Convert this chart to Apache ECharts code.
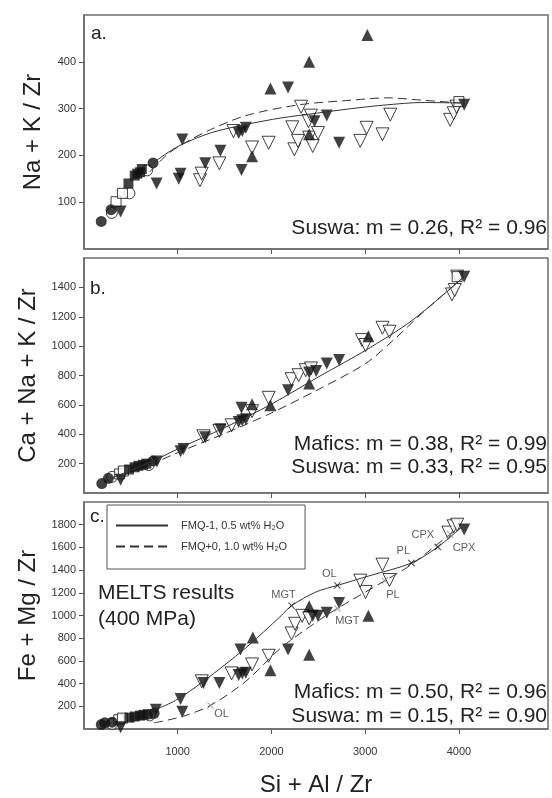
<!DOCTYPE html>
<html>
<head>
<meta charset="utf-8">
<script src="https://cdn.jsdelivr.net/npm/echarts@6/dist/echarts.min.js"></script>
<style>
html, body { margin: 0; padding: 0; background: #fff; }
#chart { width: 552px; height: 798px; }
</style>
</head>
<body>
<div id="chart"></div>
<script>
// ticks
var xTicks = [1000, 2000, 3000, 4000];
var aTicks = [100, 200, 300, 400];
var bTicks = [200, 400, 600, 800, 1000, 1200, 1400];
var cTicks = [200, 400, 600, 800, 1000, 1200, 1400, 1600, 1800];

// panel a: Na + K / Zr
var aFilledCircle = [[184, 59], [289, 84], [737, 184]];
var aOpenCircle = [[297, 77], [485, 119], [673, 168]];
var aFilledSquare = [[474, 140], [541, 157], [568, 161], [598, 164], [617, 171]];
var aOpenSquare = [[342, 101], [410, 119], [4000, 315]];
var aFilledUp = [[1793, 198], [1989, 343], [2402, 400], [3023, 457], [2402, 245]];
var aFilledDown = [[391, 80], [775, 140], [1049, 234], [1011, 150], [1030, 161], [1293, 183], [1455, 210],
  [1680, 169], [1650, 248], [1688, 252], [1726, 259], [2177, 345], [2459, 273], [2590, 285], [2722, 227], [4056, 308]];
var aOpenDown = [[1237, 147], [1256, 161], [1444, 183], [1594, 252], [1793, 217], [1970, 227], [2222, 260],
  [2244, 213], [2282, 231], [2316, 304], [2395, 273], [2402, 238], [2440, 220], [2496, 248], [2947, 231],
  [3015, 259], [3184, 245], [3267, 287], [3906, 276], [3944, 290], [3974, 304], [2420, 285]];
var aSolid = [[700, 175], [737, 184], [1011, 220], [1350, 248], [1726, 266], [2102, 280], [2477, 290],
  [2853, 300], [3229, 308], [3605, 313], [4019, 312]];
var aDashed = [[704, 165], [883, 201], [1049, 224], [1350, 255], [1726, 285], [2290, 308], [2853, 318],
  [3229, 323], [3605, 318], [4019, 312]];

// panel b: Ca + Na + K / Zr
var bFilledCircle = [[190, 64], [260, 100], [737, 218]];
var bOpenCircle = [[300, 110], [690, 190]];
var bFilledSquare = [[480, 160], [540, 175], [580, 185], [630, 192], [665, 200]];
var bOpenSquare = [[380, 130], [420, 150], [3981, 1473]];
var bFilledUp = [[1793, 605], [1989, 598], [2402, 745], [3034, 1068]];
var bFilledDown = [[391, 90], [778, 215], [1030, 285], [1060, 300], [1293, 380], [1455, 434], [1650, 484],
  [1688, 495], [1726, 502], [1680, 580], [2177, 700], [2402, 820], [2477, 830], [2590, 882], [2722, 905], [4056, 1473]];
var bOpenDown = [[1274, 386], [1444, 423], [1575, 461], [1793, 557], [1970, 648], [2214, 775], [2290, 802],
  [2365, 836], [2421, 848], [2966, 1041], [3004, 1007], [3184, 1125], [3259, 1098], [3925, 1352], [3955, 1382], [3981, 1473]];
var bSolid = [[250, 90], [737, 218], [1000, 300], [1500, 445], [2000, 605], [2500, 790], [3000, 970],
  [3500, 1175], [4050, 1470]];
var bDashed = [[700, 190], [1000, 275], [1500, 405], [2000, 545], [2500, 705], [3000, 880], [3300, 1040],
  [3600, 1220], [4050, 1470]];

// panel c: Fe + Mg / Zr
var cFilledCircle = [[184, 39], [222, 54], [300, 60], [748, 138]];
var cOpenCircle = [[300, 45], [700, 120]];
var cFilledSquare = [[485, 100], [541, 110], [598, 118], [635, 125], [680, 130]];
var cOpenSquare = [[372, 82], [410, 96]];
var cFilledUp = [[1801, 806], [1989, 518], [2402, 654], [2402, 1082], [3034, 997]];
var cFilledDown = [[391, 15], [767, 170], [1030, 265], [1049, 152], [1274, 406], [1444, 406], [1650, 476],
  [1688, 490], [1726, 496], [1669, 701], [2177, 701], [2440, 997], [2496, 997], [2590, 1025], [2722, 1110], [4056, 1758]];
var cOpenDown = [[1256, 420], [1575, 490], [1793, 569], [1970, 645], [2214, 842], [2252, 927], [2327, 997],
  [2402, 975], [3004, 1208], [2947, 1307], [3184, 1448], [3259, 1313], [3887, 1730], [3944, 1786], [3981, 1800]];
var cSolid = [[711, 152], [974, 251], [1274, 420], [1726, 715], [2102, 997], [2214, 1087], [2477, 1208],
  [2703, 1265], [3041, 1349], [3492, 1462], [3774, 1603], [4019, 1772]];
var cDashed = [[748, 54], [1049, 110], [1350, 208], [1726, 420], [2102, 715], [2477, 941], [2703, 1062],
  [3210, 1307], [3492, 1448], [3906, 1715], [4019, 1772]];

// MELTS phase-in points
var solidPhases = [[2214, 1087], [2703, 1265], [3492, 1462], [3774, 1603]];
var solidPhaseNames = ['MGT', 'OL', 'PL', 'CPX'];
var dashedPhases = [[1350, 208], [2703, 1062], [3210, 1307], [3906, 1715]];
var dashedPhaseNames = ['OL', 'MGT', 'PL', 'CPX'];

var solidName = 'FMQ-1, 0.5 wt% H\u2082O';
var dashedName = 'FMQ+0, 1.0 wt% H\u2082O';
var FONT = '"Liberation Sans", Arial, sans-serif';

var chart = echarts.init(document.getElementById('chart'));

var grids = [
  { left: 84, top: 15, width: 464, height: 234 },
  { left: 84, top: 258, width: 464, height: 235 },
  { left: 84, top: 502, width: 464, height: 236 }
];
grids.forEach(function (g) {
  g.show = true;
  g.borderColor = '#6e6e6e';
  g.borderWidth = 1.5;
  g.backgroundColor = '#fff';
});

var yMax = [500, 1600, 2000];
var yTicks = [aTicks, bTicks, cTicks];
var yNames = ['Na + K / Zr', 'Ca + Na + K / Zr', 'Fe + Mg / Zr'];
function plain(v) { return String(v); }

var xAxes = [0, 1, 2].map(function (i) {
  return {
    gridIndex: i, type: 'value', min: 0, max: 4950,
    axisLine: { show: true, lineStyle: { color: '#6e6e6e', width: 1.5 } },
    axisTick: { show: true, length: 5, customValues: xTicks, lineStyle: { color: '#555' } },
    axisLabel: { show: i === 2, customValues: xTicks, formatter: plain, color: '#333', fontSize: 11, margin: 17, fontFamily: FONT },
    splitLine: { show: false },
    name: i === 2 ? 'Si + Al / Zr' : '',
    nameLocation: 'middle', nameGap: 44,
    nameTextStyle: { fontSize: 24, color: '#222', fontFamily: FONT }
  };
});
var yAxes = [0, 1, 2].map(function (i) {
  return {
    gridIndex: i, type: 'value', min: 0, max: yMax[i],
    axisLine: { show: true, lineStyle: { color: '#6e6e6e', width: 1.5 } },
    axisTick: { show: true, length: 5, customValues: yTicks[i], lineStyle: { color: '#555' } },
    axisLabel: { customValues: yTicks[i], formatter: plain, color: '#333', fontSize: 11, margin: 8, fontFamily: FONT },
    splitLine: { show: false },
    name: yNames[i], nameLocation: 'middle', nameGap: 39,
    nameTextStyle: { fontSize: 24, color: '#222', fontFamily: FONT }
  };
});

function pts(i, data, symbol, filled, size, rotate) {
  return {
    type: 'scatter', xAxisIndex: i, yAxisIndex: i, data: data,
    symbol: symbol, symbolSize: size, symbolRotate: rotate || 0,
    itemStyle: { color: filled ? '#111' : '#fff', borderColor: '#111', borderWidth: filled ? 0 : 1 },
    z: 2
  };
}
function curve(i, data, dashed) {
  return {
    type: 'line', name: dashed ? dashedName : solidName, xAxisIndex: i, yAxisIndex: i,
    data: data, smooth: 0.3, symbol: 'none',
    itemStyle: { color: '#333' },
    lineStyle: { color: '#333', width: 1, type: dashed ? [9, 5] : 'solid' },
    z: 3
  };
}
var crossPath = 'path://M0,1L1,0L5,4L9,0L10,1L6,5L10,9L9,10L5,6L1,10L0,9L4,5Z';
function phases(data, names, color, offsets) {
  return {
    type: 'scatter', xAxisIndex: 2, yAxisIndex: 2, symbol: crossPath, symbolSize: 7,
    itemStyle: { color: color }, z: 4,
    data: data.map(function (d, k) {
      return { value: d, label: { show: true, position: 'inside', offset: offsets[k], formatter: names[k] } };
    }),
    label: { color: '#333', fontSize: 11, fontFamily: FONT }
  };
}

var sets = [
  [aFilledCircle, aOpenCircle, aFilledSquare, aOpenSquare, aFilledUp, aFilledDown, aOpenDown, aSolid, aDashed],
  [bFilledCircle, bOpenCircle, bFilledSquare, bOpenSquare, bFilledUp, bFilledDown, bOpenDown, bSolid, bDashed],
  [cFilledCircle, cOpenCircle, cFilledSquare, cOpenSquare, cFilledUp, cFilledDown, cOpenDown, cSolid, cDashed]
];
var series = [];
sets.forEach(function (s, i) {
  series.push(curve(i, s[7], false));
  series.push(curve(i, s[8], true));
  series.push(pts(i, s[6], 'triangle', false, 13, 180));
  series.push(pts(i, s[1], 'circle', false, 11));
  series.push(pts(i, s[3], 'rect', false, 10));
  series.push(pts(i, s[0], 'circle', true, 11));
  series.push(pts(i, s[2], 'rect', true, 10));
  series.push(pts(i, s[4], 'triangle', true, 12));
  series.push(pts(i, s[5], 'triangle', true, 12, 180));
});
series.push(phases(solidPhases, solidPhaseNames, '#111', [[-8, -11], [-8, -11], [-8, -12], [-15, -12]]));
series.push(phases(dashedPhases, dashedPhaseNames, '#888', [[11, 9], [10, 13], [8, 14], [14, 14]]));

function txt(s, x, y, size, align) {
  return {
    type: 'text', z: 10, x: x, y: y,
    style: { text: s, fill: '#222', font: size + 'px ' + FONT, textAlign: align || 'left', textVerticalAlign: 'middle' }
  };
}

chart.setOption({
  animation: false,
  backgroundColor: '#fff',
  grid: grids,
  xAxis: xAxes,
  yAxis: yAxes,
  legend: {
    data: [solidName, dashedName],
    orient: 'vertical', left: 107, top: 505,
    padding: [15, 18, 17, 8], itemGap: 10, itemWidth: 52, itemHeight: 10,
    borderColor: '#555', borderWidth: 1, backgroundColor: '#fff',
    itemStyle: { opacity: 0 },
    textStyle: { fontSize: 11, color: '#333', fontFamily: FONT, padding: [0, 0, 0, 8] },
    selectedMode: false
  },
  graphic: [
    txt('a.', 91, 34, 19),
    txt('b.', 90, 289, 19),
    txt('c.', 90, 517, 19),
    txt('Suswa: m = 0.26, R\u00b2 = 0.96', 547, 228, 21, 'right'),
    txt('Mafics: m = 0.38, R\u00b2 = 0.99', 547, 444, 21, 'right'),
    txt('Suswa: m = 0.33, R\u00b2 = 0.95', 547, 467, 21, 'right'),
    txt('Mafics: m = 0.50, R\u00b2 = 0.96', 547, 692, 21, 'right'),
    txt('Suswa: m = 0.15, R\u00b2 = 0.90', 547, 716, 21, 'right'),
    txt('MELTS results', 98, 593, 21),
    txt('(400 MPa)', 98, 619, 21)
  ],
  series: series
});
</script>
</body>
</html>
